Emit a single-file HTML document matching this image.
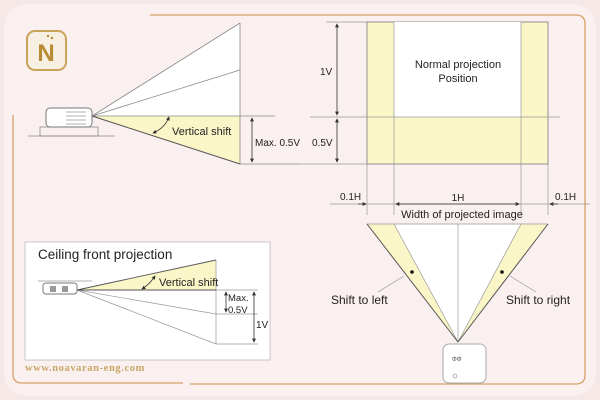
<!DOCTYPE html>
<html><head><meta charset="utf-8"><style>
html,body{margin:0;padding:0;width:600px;height:400px;overflow:hidden;background:#f7e8e8;}
svg{display:block;font-family:"Liberation Sans",sans-serif;}
</style></head><body>
<svg width="600" height="400" viewBox="0 0 600 400" xmlns="http://www.w3.org/2000/svg">
<defs>
<marker id="a" viewBox="0 0 6 6" refX="5" refY="3" markerWidth="5" markerHeight="5" orient="auto-start-reverse"><path d="M0,0L6,3L0,6z" fill="#333"/></marker>
</defs>
<rect x="4" y="4" width="592" height="392" rx="22" fill="#fbf0f0"/>
<!-- orange frame -->
<g stroke="#d8a068" stroke-width="1.3" fill="none">
<path d="M150,15 H576 Q585,15 585,24 V375 Q585,384 576,384 H190"/>
<path d="M183,383 H22 Q13,383 13,374 V115"/>
</g>
<!-- logo -->
<rect x="27" y="31" width="39" height="39" rx="8" fill="#f6efe2" stroke="#c9a35a" stroke-width="2"/>
<text x="46" y="61" font-size="24" font-weight="bold" fill="#b98a34" text-anchor="middle">N</text>
<circle cx="48" cy="36" r="1.2" fill="#b98a34"/><circle cx="52" cy="38" r="1.2" fill="#b98a34"/>
<!-- top-left diagram -->
<polygon points="92,116 240,23 240,116" fill="#ffffff"/>
<polygon points="92,116 240,116 240,164" fill="#fbf6c8"/>
<g stroke="#888" stroke-width="0.8" fill="none">
<line x1="92" y1="116" x2="240" y2="23"/>
<line x1="92" y1="116" x2="240" y2="70"/>
<line x1="92" y1="116" x2="275" y2="116"/>
<line x1="240" y1="23" x2="240" y2="164"/>
<line x1="240" y1="164" x2="300" y2="164"/>
<line x1="28" y1="136" x2="115" y2="136"/>
<rect x="40" y="127" width="58" height="9"/>
</g>
<line x1="92" y1="116" x2="240" y2="164" stroke="#555" stroke-width="1"/>
<rect x="46" y="108" width="46" height="19" rx="4" fill="#fff" stroke="#777"/>
<g stroke="#999" stroke-width="0.7"><line x1="66" y1="112" x2="86" y2="112"/><line x1="66" y1="116" x2="86" y2="116"/><line x1="66" y1="120" x2="86" y2="120"/><line x1="66" y1="124" x2="86" y2="124"/></g>
<path d="M169,117 Q165,128 153,133" stroke="#333" stroke-width="0.8" fill="none" marker-start="url(#a)" marker-end="url(#a)"/>
<text x="172" y="135" font-size="11" fill="#222">Vertical shift</text>
<line x1="252" y1="118" x2="252" y2="162" stroke="#333" stroke-width="0.8" marker-start="url(#a)" marker-end="url(#a)"/>
<text x="255" y="146" font-size="10" fill="#222">Max. 0.5V</text>
<!-- right screen -->
<rect x="367" y="22" width="181" height="142" fill="#fbf6c8" stroke="#777" stroke-width="0.8"/>
<rect x="394" y="22" width="127" height="95" fill="#fff"/>
<g stroke="#999" stroke-width="0.7" fill="none">
<line x1="310" y1="117" x2="560" y2="117"/>
<line x1="326" y1="22" x2="367" y2="22"/>
<line x1="300" y1="164" x2="367" y2="164"/>
<line x1="367" y1="164" x2="367" y2="215"/>
<line x1="394" y1="22" x2="394" y2="215"/>
<line x1="521" y1="22" x2="521" y2="215"/>
<line x1="548" y1="164" x2="548" y2="215"/>
<line x1="330" y1="204" x2="590" y2="204"/>
</g>
<line x1="337" y1="24" x2="337" y2="115" stroke="#333" stroke-width="0.8" marker-start="url(#a)" marker-end="url(#a)"/>
<line x1="337" y1="119" x2="337" y2="162" stroke="#333" stroke-width="0.8" marker-start="url(#a)" marker-end="url(#a)"/>
<text x="320" y="75" font-size="10" fill="#222">1V</text>
<text x="312" y="146" font-size="10" fill="#222">0.5V</text>
<text x="458" y="68" font-size="11" fill="#222" text-anchor="middle">Normal projection</text>
<text x="458" y="82" font-size="11" fill="#222" text-anchor="middle">Position</text>
<line x1="358" y1="204" x2="366" y2="204" stroke="#333" stroke-width="0.8" marker-end="url(#a)"/>
<line x1="396" y1="204" x2="519" y2="204" stroke="#333" stroke-width="0.8" marker-start="url(#a)" marker-end="url(#a)"/>
<line x1="558" y1="204" x2="550" y2="204" stroke="#333" stroke-width="0.8" marker-end="url(#a)"/>
<text x="340" y="200" font-size="10" fill="#222">0.1H</text>
<text x="458" y="201" font-size="10" fill="#222" text-anchor="middle">1H</text>
<text x="555" y="200" font-size="10" fill="#222">0.1H</text>
<text x="462" y="218" font-size="11" fill="#222" text-anchor="middle">Width of projected image</text>
<!-- bottom triangle -->
<polygon points="367,224 548,224 458,342" fill="#fff"/>
<polygon points="367,224 394,224 458,342" fill="#fbf6c8"/>
<polygon points="521,224 548,224 458,342" fill="#fbf6c8"/>
<g stroke="#999" stroke-width="0.7" fill="none">
<line x1="394" y1="224" x2="458" y2="342"/><line x1="521" y1="224" x2="458" y2="342"/>
<line x1="458" y1="224" x2="458" y2="342"/><line x1="367" y1="224" x2="548" y2="224"/>
<line x1="404" y1="276" x2="378" y2="292"/><line x1="510" y1="276" x2="536" y2="292"/>
</g>
<g stroke="#555" stroke-width="1"><line x1="367" y1="224" x2="458" y2="342"/><line x1="548" y1="224" x2="458" y2="342"/></g>
<circle cx="412" cy="272" r="1.8" fill="#111"/><circle cx="502" cy="272" r="1.8" fill="#111"/>
<text x="331" y="304" font-size="12" fill="#222">Shift to left</text>
<text x="506" y="304" font-size="12" fill="#222">Shift to right</text>
<rect x="443" y="344" width="43" height="39" rx="6" fill="#fff" stroke="#aaa"/>
<text x="452" y="361" font-size="6" fill="#555">ΦΦ</text>
<circle cx="455" cy="376" r="2" fill="none" stroke="#777" stroke-width="0.6"/>
<!-- ceiling box -->
<rect x="25" y="242" width="245" height="118" fill="#fff" stroke="#bbb" stroke-width="0.8"/>
<text x="38" y="259" font-size="13.5" fill="#222">Ceiling front projection</text>
<polygon points="77,290 216,260 216,290" fill="#fbf6c8"/>
<g stroke="#999" stroke-width="0.7" fill="none">
<line x1="77" y1="290" x2="216" y2="314"/>
<line x1="77" y1="290" x2="216" y2="344"/>
<line x1="216" y1="260" x2="216" y2="344"/>
<line x1="216" y1="290" x2="258" y2="290"/>
<line x1="216" y1="314" x2="258" y2="314"/>
<line x1="216" y1="344" x2="258" y2="344"/>
<line x1="38" y1="281" x2="92" y2="281"/>
</g>
<g stroke="#555" stroke-width="0.9"><line x1="77" y1="290" x2="216" y2="260"/><line x1="77" y1="290" x2="216" y2="290"/></g>
<rect x="43" y="283" width="34" height="11" rx="3" fill="#fff" stroke="#777"/>
<rect x="50" y="286" width="6" height="6" fill="#999"/><rect x="62" y="286" width="6" height="6" fill="#999"/>
<path d="M155,276 Q150,284 142,289" stroke="#333" stroke-width="0.8" fill="none" marker-start="url(#a)" marker-end="url(#a)"/>
<text x="159" y="286" font-size="11" fill="#222">Vertical shift</text>
<line x1="226" y1="292" x2="226" y2="312" stroke="#333" stroke-width="0.8" marker-start="url(#a)" marker-end="url(#a)"/>
<line x1="254" y1="292" x2="254" y2="342" stroke="#333" stroke-width="0.8" marker-start="url(#a)" marker-end="url(#a)"/>
<text x="228" y="301" font-size="9.5" fill="#222">Max.</text>
<text x="228" y="313" font-size="9.5" fill="#222">0.5V</text>
<text x="256" y="328" font-size="10" fill="#222">1V</text>
<text x="25" y="371" font-size="10.5" font-family="Liberation Serif,serif" font-weight="bold" fill="#c8a868" letter-spacing="0.6">www.noavaran-eng.com</text>
</svg>
</body></html>
